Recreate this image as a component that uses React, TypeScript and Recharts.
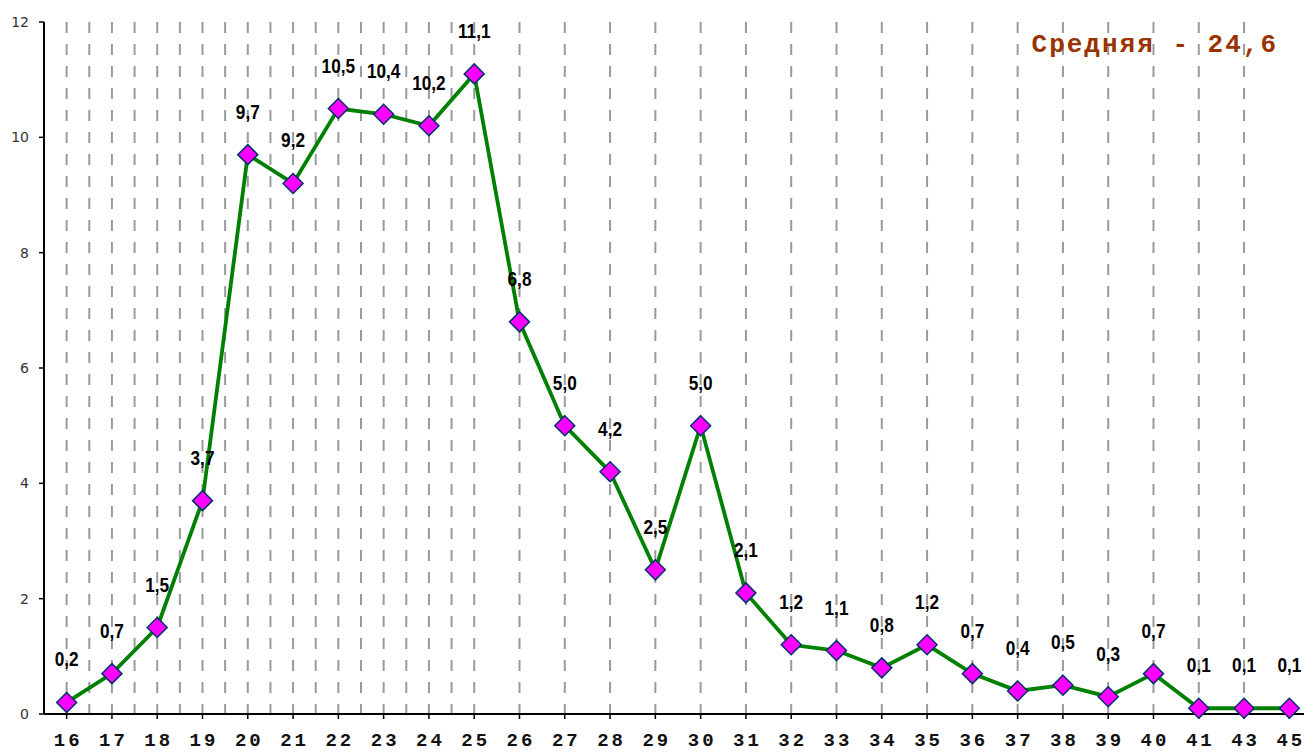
import React from 'react';
import { LineChart, Line, XAxis, YAxis, CartesianGrid, LabelList } from 'recharts';

const categories = ['16','17','18','19','20','21','22','23','24','25','26','27','28','29','30','31','32','33','34','35','36','37','38','39','40','41','43','45'];
const values = [0.2,0.7,1.5,3.7,9.7,9.2,10.5,10.4,10.2,11.1,6.8,5.0,4.2,2.5,5.0,2.1,1.2,1.1,0.8,1.2,0.7,0.4,0.5,0.3,0.7,0.1,0.1,0.1];
const yTicks = [0,2,4,6,8,10,12];
const title = 'Средняя - 24,6';

const data = categories.map((c, i) => ({ idx: i, cat: c, value: values[i] }));
const centerTicks = categories.map((_, i) => i);
const boundaryTicks = [...categories.map((_, i) => i - 0.5), categories.length - 0.5];
const gridTicks = [...centerTicks, ...boundaryTicks].sort((a, b) => a - b);
const domain: [number, number] = [-0.5, categories.length - 0.5];

const Diamond = (props: any) => {
  const { cx, cy } = props;
  if (cx == null || cy == null) return null;
  const r = 10;
  return (
    <path
      d={`M${cx},${cy - r}L${cx + r},${cy}L${cx},${cy + r}L${cx - r},${cy}Z`}
      fill="#FF00FF"
      stroke="#003366"
      strokeWidth={1.5}
    />
  );
};

const ValueLabel = (props: any) => {
  const { x, y, value } = props;
  if (x == null || y == null) return null;
  return (
    <text
      transform={`translate(${x},${y - 36}) scale(0.82,1)`}
      x={0}
      y={0}
      textAnchor="middle"
      fontFamily="'Liberation Sans', Arial, sans-serif"
      fontWeight="bold"
      fontSize={21}
      fill="#000"
    >
      {Number(value).toFixed(1).replace('.', ',')}
    </text>
  );
};

const XTick = (props: any) => {
  const { x, y, payload } = props;
  return (
    <text
      x={x + 1.5}
      y={y}
      dy="0.71em"
      textAnchor="middle"
      fontFamily="'Liberation Mono', 'Courier New', monospace"
      fontWeight="bold"
      fontSize={19}
      letterSpacing={3}
      fill="#111"
    >
      {categories[payload.value]}
    </text>
  );
};

export default function App() {
  return (
    <div style={{ position: 'absolute', left: 0, top: 0, width: 1304, height: 752, overflow: 'hidden', background: '#fff' }}>
      <LineChart width={1312} height={752} data={data} margin={{ top: 22, right: 0, bottom: 0, left: 0 }}>
        <XAxis
          xAxisId="main"
          type="number"
          dataKey="idx"
          domain={domain}
          ticks={centerTicks}
          interval={0}
          allowDataOverflow
          height={38}
          tickSize={5}
          tickMargin={14}
          axisLine={{ stroke: '#000', strokeWidth: 2 }}
          tickLine={{ stroke: '#000', strokeWidth: 1.5 }}
          tick={<XTick />}
        />
        <XAxis xAxisId="grid" type="number" dataKey="idx" domain={domain} ticks={gridTicks} hide height={0} allowDataOverflow />
        <CartesianGrid
          xAxisId="grid"
          horizontal={false}
          vertical
          stroke="#9a9a9a"
          strokeWidth={2}
          strokeDasharray="11 11"
        />
        <YAxis
          type="number"
          domain={[0, 12]}
          ticks={yTicks}
          interval={0}
          width={44}
          tickSize={5}
          tickMargin={10}
          axisLine={{ stroke: '#000', strokeWidth: 2 }}
          tickLine={{ stroke: '#000', strokeWidth: 1.5 }}
          tick={{ fill: '#333', fontSize: 14, fontFamily: "'DejaVu Sans', sans-serif" }}
        />
        <Line
          xAxisId="main"
          type="linear"
          dataKey="value"
          stroke="#008000"
          strokeWidth={3.8}
          dot={<Diamond />}
          activeDot={false}
          isAnimationActive={false}
        >
          <LabelList dataKey="value" content={<ValueLabel />} />
        </Line>
        <XAxis
          xAxisId="bnd"
          type="number"
          dataKey="idx"
          domain={domain}
          ticks={boundaryTicks}
          interval={0}
          allowDataOverflow
          mirror
          height={0}
          tickSize={7}
          axisLine={false}
          tickLine={{ stroke: '#000', strokeWidth: 1.5 }}
          tick={false}
        />
      </LineChart>
      <div
        style={{
          position: 'absolute',
          right: 26,
          top: 30,
          fontFamily: "'Liberation Mono', 'Courier New', monospace",
          fontWeight: 'bold',
          fontSize: 26,
          lineHeight: '30px',
          letterSpacing: 2,
          color: '#993300',
          whiteSpace: 'nowrap',
        }}
      >
        {title}
      </div>
    </div>
  );
}
